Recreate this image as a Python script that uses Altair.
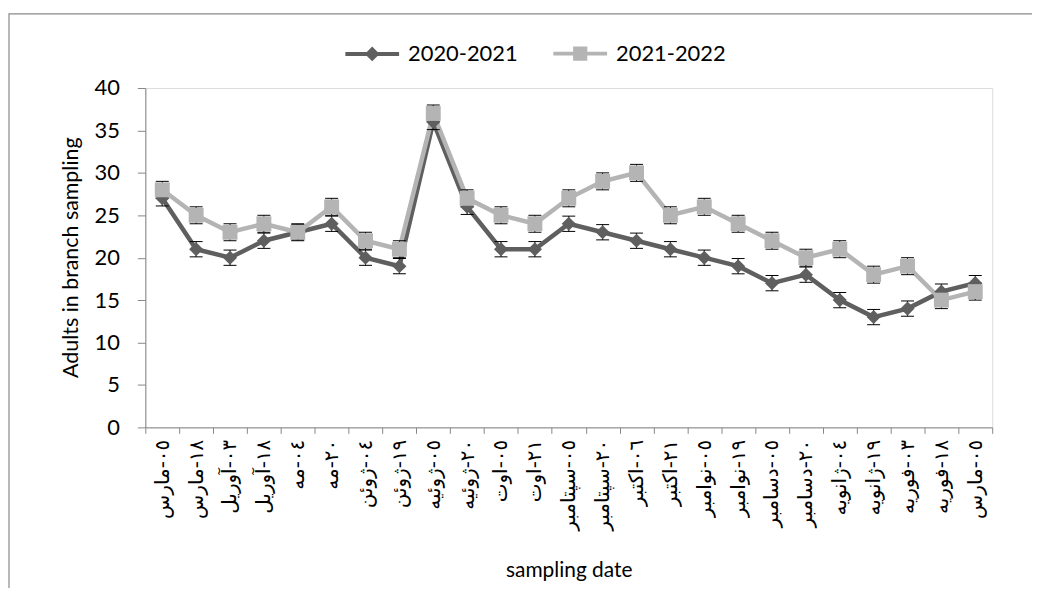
import altair as alt
import pandas as pd

dates = ["٠٥-مارس", "١٨-مارس", "٠٣-آوریل", "١٨-آوریل", "٠٤-مه", "٢٠-مه",
         "٠٤-ژوئن", "١٩-ژوئن", "٠٥-ژوئیه", "٢٠-ژوئیه", "٠٥-اوت", "٢١-اوت",
         "٠٥-سپتامبر", "٢٠-سپتامبر", "٠٦-اکتبر", "٢١-اکتبر", "٠٥-نوامبر",
         "١٩-نوامبر", "٠٥-دسامبر", "٢٠-دسامبر", "٠٤-ژانویه", "١٩-ژانویه",
         "٠٣-فوریه", "١٨-فوریه", "٠٥-مارس "]
series_names = ["2020-2021", "2021-2022"]
s2020 = [27, 21, 20, 22, 23, 24, 20, 19, 36, 26, 21, 21, 24, 23, 22, 21, 20, 19, 17, 18, 15, 13, 14, 16, 17]
s2021 = [28, 25, 23, 24, 23, 26, 22, 21, 37, 27, 25, 24, 27, 29, 30, 25, 26, 24, 22, 20, 21, 18, 19, 15, 16]
err2020 = [0.9] * 25
err2021 = [1.0] * 25

rows = []
for vals, errs, name in [(s2020, err2020, series_names[0]), (s2021, err2021, series_names[1])]:
    for d, v, e in zip(dates, vals, errs):
        rows.append({"date": d, "series": name, "value": v, "lo": v - e, "hi": v + e})
df = pd.DataFrame(rows)

DARK = "#5f5f5f"
LIGHT = "#b4b4b4"
AXIS = "#868686"

x_enc = alt.X("date:N", sort=dates,
              scale=alt.Scale(type="band", paddingInner=0, paddingOuter=0),
              axis=alt.Axis(title="sampling date", labelAngle=-90, tickBand="extent",
                            labelFont="DejaVu Sans", labelFontSize=20, labelColor="black",
                            labelPadding=6, tickSize=6, tickColor=AXIS, domainColor=AXIS,
                            labelOverlap=False, grid=False,
                            titleFont="Lato", titleFontSize=21, titleFontWeight="normal",
                            titleColor="black", titleY=144, titleBaseline="middle"))
y_scale = alt.Scale(domain=[0, 40], nice=False, zero=True)
y_axis = alt.Axis(title="Adults in branch sampling", values=list(range(0, 41, 5)),
                  labelFont="Lato", labelFontSize=22, labelColor="black", labelPadding=18,
                  tickSize=8, tickColor=AXIS, domainColor=AXIS, grid=False,
                  titleFont="Lato", titleFontSize=21.5, titleFontWeight="normal",
                  titleColor="black", titleX=-74, titleY=170, titleBaseline="middle",
                  titleAngle=-90, titleAlign="center")

color_scale = alt.Scale(domain=series_names, range=[DARK, LIGHT])

base = alt.Chart(df)
dark = base.transform_filter(alt.datum.series == series_names[0])
light = base.transform_filter(alt.datum.series == series_names[1])

line_dark = dark.mark_line(strokeWidth=4.5, color=DARK).encode(
    x=x_enc, y=alt.Y("value:Q", scale=y_scale, axis=y_axis))
line_light = light.mark_line(strokeWidth=4.5, color=LIGHT).encode(
    x=alt.X("date:N", sort=dates), y="value:Q")

bars = base.mark_rule(color="black", strokeWidth=1).encode(
    x=alt.X("date:N", sort=dates), y="lo:Q", y2="hi:Q")
caps_hi = base.mark_tick(color="black", thickness=1, size=13, orient="horizontal", opacity=1).encode(
    x=alt.X("date:N", sort=dates), y="hi:Q")
caps_lo = base.mark_tick(color="black", thickness=1, size=13, orient="horizontal", opacity=1).encode(
    x=alt.X("date:N", sort=dates), y="lo:Q")

pts_dark = dark.mark_point(filled=True, shape="diamond", size=200, opacity=1, color=DARK).encode(
    x=alt.X("date:N", sort=dates), y="value:Q")
pts_light = light.mark_point(filled=True, shape="square", size=225, opacity=1, color=LIGHT).encode(
    x=alt.X("date:N", sort=dates), y="value:Q")

diamond_path = "M-1,0L1,0M0,-0.17L0.17,0L0,0.17L-0.17,0Z"
square_path = "M-1,0L1,0M-0.19,-0.19L0.19,-0.19L0.19,0.19L-0.19,0.19Z"

leg = dict(title=None, orient="none", direction="horizontal", legendX=199, legendY=-64)
legend_layer = base.transform_filter("false").mark_point(
    filled=True, size=2916, opacity=1, strokeWidth=4).encode(
    x=alt.X("date:N", sort=dates), y="value:Q",
    color=alt.Color("series:N", scale=color_scale,
                    legend=alt.Legend(symbolSize=2916, symbolStrokeWidth=4, symbolOpacity=1,
                                      labelFont="Lato", labelFontSize=22, labelColor="black",
                                      labelOffset=7, columnPadding=27, **leg)),
    stroke=alt.Stroke("series:N", scale=alt.Scale(domain=series_names, range=[DARK, LIGHT]),
                      legend=alt.Legend(**leg)),
    shape=alt.Shape("series:N", scale=alt.Scale(domain=series_names, range=[diamond_path, square_path]),
                    legend=alt.Legend(**leg)),
)

border = alt.Chart(alt.Data(values=[{"k": 1}])).mark_rect(
    fill="white", fillOpacity=0, stroke="#8a8a8a", strokeWidth=1.2).encode(
    x=alt.value(-137), x2=alt.value(1000), y=alt.value(-74.5), y2=alt.value(600))

chart = alt.layer(border, line_dark, line_light, bars, caps_hi, caps_lo, pts_dark, pts_light,
                  legend_layer).properties(
    width=851, height=341,
    autosize=alt.AutoSizeParams(type="none"),
    padding={"left": 138, "top": 79, "right": 40, "bottom": 160},
).configure_view(stroke=None).configure(background="white")

chart.save("out.html", embed_options={"renderer": "svg", "actions": False})
